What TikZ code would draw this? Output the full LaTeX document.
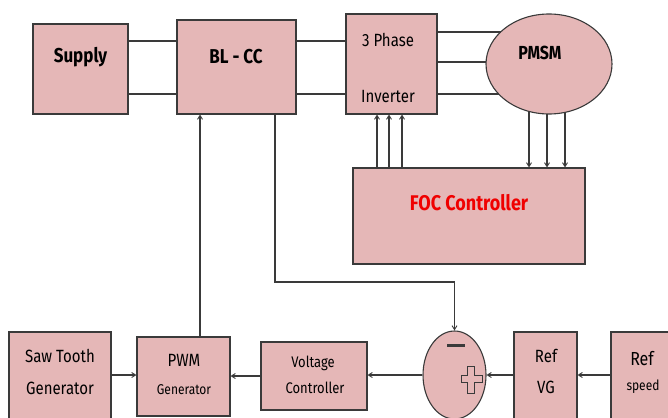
\documentclass[tikz,border=0pt]{standalone}
\usepackage{fontspec}
\usepackage{graphicx}
\setmainfont{Fira Sans}
\usetikzlibrary{arrows.meta,shapes.geometric,calc}
\definecolor{boxfill}{HTML}{E5B7B7}
\definecolor{edge}{HTML}{3A3A3A}
\definecolor{focred}{HTML}{F00000}
\tikzset{
  blk/.style={draw=edge,fill=boxfill,line width=1.1pt,rectangle,inner sep=0pt},
  ell/.style={draw=edge,fill=boxfill,line width=1.1pt,ellipse,inner sep=0pt},
  txt/.style={inner sep=0pt,text=black},
  wire/.style={draw=edge,line width=1.1pt},
  arr/.style={wire,-{Straight Barb[length=4pt,width=5pt,line width=0.9pt]}},
}
\newcommand{\fs}[2]{\scalebox{1}[1.18]{\fontsize{#1}{#1}\selectfont #2}}
\begin{document}
\begin{tikzpicture}[x=1pt,y=-1pt]
\useasboundingbox (0,0) rectangle (668,417);
\begin{scope}
\clip (0,0) rectangle (668,417);
% boxes
\node[blk,minimum width=95,minimum height=90] (supply) at (80.5,69) {};
\node[blk,minimum width=119,minimum height=94] (blcc) at (236.5,67) {};
\node[blk,minimum width=91,minimum height=100] (inv) at (391.5,64) {};
\node[ell,minimum width=126,minimum height=100] (pmsm) at (549,64) {};
\node[blk,minimum width=232,minimum height=96] (foc) at (469,216) {};
\node[blk,minimum width=102,minimum height=90] (saw) at (60,377) {};
\node[blk,minimum width=93,minimum height=79] (pwm) at (183.5,376.5) {};
\node[blk,minimum width=106,minimum height=68] (vc) at (314,376) {};
\node[ell,minimum width=63,minimum height=88] (sum) at (454.5,375) {};
\node[blk,minimum width=63,minimum height=90] (refvg) at (545.5,377) {};
\node[blk,minimum width=64,minimum height=90] (refsp) at (643,377) {};
\end{scope}
% texts
\node[txt] (tsupply) at (80.5,57) {\fs{17}{\bfseries Supply}};
\node[txt] (tblcc) at (236,57) {\fs{17}{\bfseries BL - CC}};
\node[txt] (tinv1) at (388,40) {\fs{15}{3 Phase}};
\node[txt] (tinv2) at (388,97) {\fs{15}{Inverter}};
\node[txt] (tpmsm) at (540,53) {\fs{16}{\bfseries PMSM}};
\node[txt,text=focred] (tfoc) at (469,203) {\fs{18}{\bfseries FOC Controller}};
\node[txt] (tsaw1) at (60,356) {\fs{15}{Saw Tooth}};
\node[txt] (tsaw2) at (60,388) {\fs{15}{Generator}};
\node[txt] (tpwm1) at (184,360) {\fs{15}{PWM}};
\node[txt] (tpwm2) at (184,390) {\fs{12}{Generator}};
\node[txt] (tvc1) at (313,363) {\fs{13}{Voltage}};
\node[txt] (tvc2) at (315,388) {\fs{13}{Controller}};
\node[txt] (tvg1) at (546,356) {\fs{15}{Ref}};
\node[txt] (tvg2) at (546,387) {\fs{15}{VG}};
\node[txt] (tsp1) at (642,359) {\fs{16}{Ref}};
\node[txt] (tsp2) at (643,387) {\fs{12}{speed}};
% minus and plus
\draw[line width=3pt,edge] (447,345) coordinate (m1) -- (465,345) coordinate (m2);
\draw[fill=boxfill,draw=edge,line width=1pt]
  (467.5,366) coordinate (p0) -- (474.5,366) -- (474.5,375.5) -- (482,375.5) -- (482,382.5) -- (474.5,382.5)
  -- (474.5,393) -- (467.5,393) -- (467.5,382.5) -- (461,382.5) -- (461,375.5) -- (467.5,375.5) -- cycle;
% wires top
\foreach \yy in {41,94}{
  \draw[wire] (supply.east |- 0,\yy) -- (blcc.west |- 0,\yy);
  \draw[wire] (blcc.east |- 0,\yy) -- (inv.west |- 0,\yy);
}
\draw[wire] (inv.east |- 0,32) -- ($(pmsm.center)+(-48.4,-32)$);
\draw[wire] (inv.east |- 0,62) -- ($(pmsm.center)+(-63,-2)$);
\draw[wire] (inv.east |- 0,94) -- ($(pmsm.center)+(-50,30)$);
\foreach \xx in {377,389,402}{
  \draw[arr] (foc.north -| \xx,0) -- (inv.south -| \xx,0);
}
\draw[arr] ($(pmsm.center)+(-20,47.4)$) -- (foc.north -| 529,0);
\draw[arr] ($(pmsm.center)+(-2,50)$) -- (foc.north -| 547,0);
\draw[arr] ($(pmsm.center)+(16,48.4)$) -- (foc.north -| 565,0);
% feedback
\draw[arr] (pwm.north -| 200,0) -- (blcc.south -| 200,0);
\draw[arr] (blcc.south -| 275,0) |- (sum.north |- 0,282) -- (sum.north);
% bottom chain
\draw[arr] (saw.east |- 0,375) -- (pwm.west |- 0,375);
\draw[arr] (vc.west) -- (pwm.east |- vc.west);
\draw[arr] (sum.west) -- (vc.east |- sum.west);
\draw[arr] (refvg.west |- 0,375) -- (sum.east);
\draw[arr] (refsp.west |- 0,375) -- (refvg.east |- 0,375);
\end{tikzpicture}
\end{document}
